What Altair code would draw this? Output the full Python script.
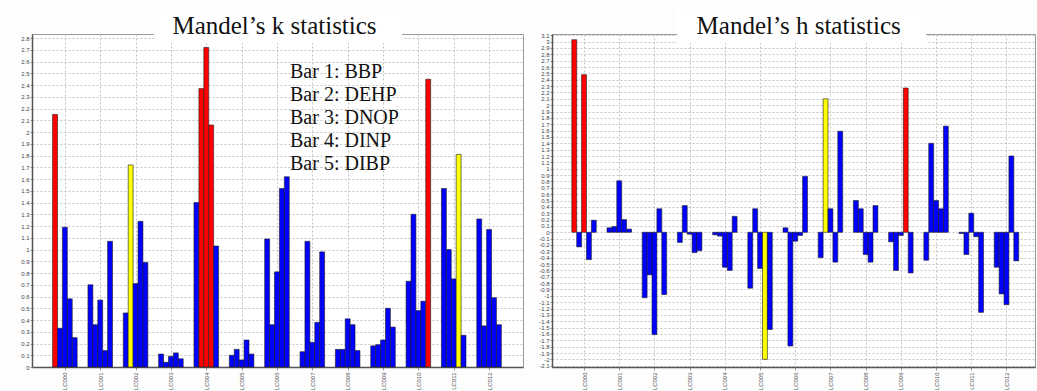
import altair as alt
import pandas as pd

groups = ["LC000", "LC001", "LC002", "LC003", "LC004", "LC005", "LC006",
          "LC007", "LC008", "LC009", "LC010", "LC011", "LC012"]
compounds = ["BBP", "DEHP", "DNOP", "DINP", "DIBP"]

# Mandel's k (rows = labs, columns = Bar 1..5)
k_values = [
    [2.15, 0.33, 1.19, 0.58, 0.25],
    [0.70, 0.36, 0.57, 0.14, 1.07],
    [0.46, 1.72, 0.71, 1.24, 0.89],
    [0.11, 0.04, 0.09, 0.12, 0.07],
    [1.40, 2.37, 2.72, 2.06, 1.03],
    [0.10, 0.15, 0.06, 0.23, 0.11],
    [1.09, 0.36, 0.81, 1.52, 1.62],
    [0.13, 1.07, 0.21, 0.38, 0.98],
    [0.15, 0.15, 0.41, 0.36, 0.14],
    [0.18, 0.19, 0.23, 0.50, 0.34],
    [0.73, 1.30, 0.48, 0.56, 2.45],
    [1.52, 1.00, 0.75, 1.81, 0.27],
    [1.26, 0.35, 1.17, 0.59, 0.36],
]
# B = blue, Y = yellow (warning), R = red (outlier)
k_flags = ["RBBBB", "BBBBB", "BYBBB", "BBBBB", "BRRRB", "BBBBB", "BBBBB",
           "BBBBB", "BBBBB", "BBBBB", "BBBBR", "BBBYB", "BBBBB"]

# Mandel's h
h_values = [
    [3.03, -0.23, 2.48, -0.43, 0.19],
    [0.07, 0.09, 0.81, 0.20, 0.05],
    [-1.03, -0.67, -1.61, 0.37, -0.98],
    [-0.16, 0.42, -0.03, -0.32, -0.29],
    [-0.04, -0.06, -0.55, -0.60, 0.25],
    [-0.88, 0.37, -0.57, -2.00, -1.53],
    [0.07, -1.79, -0.14, -0.05, 0.88],
    [-0.40, 2.10, 0.37, -0.47, 1.59],
    [0.50, 0.37, -0.35, -0.47, 0.42],
    [-0.15, -0.60, -0.05, 2.27, -0.64],
    [-0.44, 1.40, 0.50, 0.37, 1.67],
    [-0.02, -0.35, 0.30, -0.07, -1.26],
    [-0.55, -0.97, -1.14, 1.20, -0.45],
]
h_flags = ["RBRBB", "BBBBB", "BBBBB", "BBBBB", "BBBBB", "BBBYB", "BBBBB",
           "BYBBB", "BBBBB", "BBBRB", "BBBBB", "BBBBB", "BBBBB"]

k_ticks = [round(i * 0.1, 1) for i in range(0, 29)]
h_ticks = [round(i * 0.1, 1) for i in range(-21, 32)]

BAR_W = 0.139  # bar width in group units


def make_df(values, flags):
    rows = []
    for g, (vals, fl) in enumerate(zip(values, flags)):
        for b, (v, f) in enumerate(zip(vals, fl)):
            rows.append({
                "lab": groups[g],
                "compound": compounds[b],
                "x0": g + (b - 2.5) * BAR_W,
                "x1": g + (b - 1.5) * BAR_W,
                "value": v,
                "flag": f,
            })
    return pd.DataFrame(rows)


label_js = "[" + ",".join("'%s'" % g for g in groups) + "][datum.value]"
ylab_js = ("datum.value < 0 ? '-' + format(-datum.value, '.1~f') "
           ": format(datum.value, '.1~f')")

grid_style = dict(grid=True, gridColor="#c4c4c4", gridDash=[2, 2], gridWidth=1)


def panel(values, flags, ydomain, yticks, xdomain, width, title, title_x, box):
    df = make_df(values, flags)
    bars = alt.Chart(df).mark_bar(stroke="#1c1c1c", strokeWidth=0.6).encode(
        x=alt.X("x0:Q",
                scale=alt.Scale(domain=xdomain, nice=False, zero=False),
                axis=alt.Axis(values=list(range(len(groups))), labelExpr=label_js,
                              labelAngle=270, labelFontSize=6, labelColor="#555",
                              labelFont="Liberation Sans", labelPadding=2,
                              tickSize=3, tickColor="#999", domainColor="#555",
                              domainWidth=1.5, title=None, **grid_style)),
        x2="x1:Q",
        y=alt.Y("value:Q",
                scale=alt.Scale(domain=ydomain, nice=False, zero=False),
                axis=alt.Axis(values=yticks, labelExpr=ylab_js, labelFontSize=6,
                              labelColor="#444", labelFont="Liberation Sans",
                              labelPadding=1, tickSize=2, tickColor="#999",
                              domainColor="#555", domainWidth=1.5, title=None,
                              labelOverlap=False, **grid_style)),
        y2=alt.datum(0),
        color=alt.Color("flag:N",
                        scale=alt.Scale(domain=["B", "Y", "R"],
                                        range=["#0000ff", "#ffff00", "#ff0000"]),
                        legend=None),
        tooltip=["lab", "compound", "value"],
    )
    one = pd.DataFrame({"t": [title]})
    boxm = alt.Chart(one).mark_rect(fill="white").encode(
        x=alt.value(box[0]), x2=alt.value(box[1]),
        y=alt.value(-25), y2=alt.value(9))
    ttl = alt.Chart(one).mark_text(font="Liberation Serif", fontSize=25,
                                   color="#111", baseline="alphabetic",
                                   align="center").encode(
        text="t:N", x=alt.value(title_x), y=alt.value(0))
    layers = [bars, boxm, ttl]
    return layers, width


left_layers, lw = panel(k_values, k_flags, [0, 2.835], k_ticks, [-0.93, 12.96], 491,
                        "Mandel\u2019s k statistics", 242.5, (122, 370))
legend_text = "\n".join("Bar %d: %s" % (i + 1, c) for i, c in enumerate(compounds))
leg = alt.Chart(pd.DataFrame({"t": [legend_text]})).mark_text(
    font="Liberation Serif", fontSize=20, color="#111", align="left",
    baseline="alphabetic", lineBreak="\n", lineHeight=23).encode(
    text="t:N", x=alt.value(258), y=alt.value(43.6))
left = alt.layer(*left_layers, leg).properties(width=lw, height=333)

right_layers, rw = panel(h_values, h_flags, [-2.12, 3.12], h_ticks, [-0.91, 12.81], 483,
                         "Mandel\u2019s h statistics", 246.7, (125, 374))
right = alt.layer(*right_layers).properties(width=rw, height=333)

chart = alt.hconcat(left, right, spacing=29, bounds="flush").properties(
    padding={"left": 20, "top": 8, "right": 0, "bottom": 2},
    background="#fdfdfe",
).configure_view(stroke="#9a9a9a", strokeWidth=1, fill="white")

chart.save("out.html", embed_options={"renderer": "svg", "actions": False})
